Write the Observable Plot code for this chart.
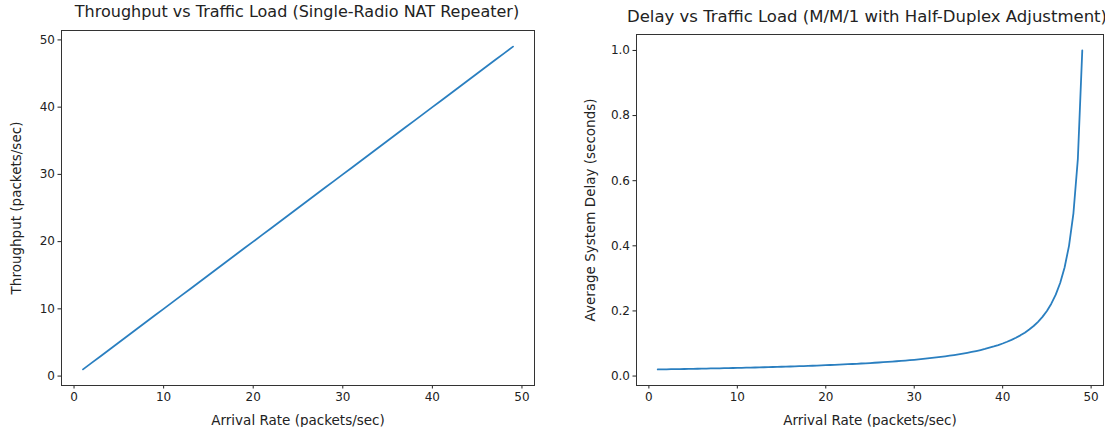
<!DOCTYPE html>
<html>
<head>
<meta charset="utf-8">
<script src="https://cdn.jsdelivr.net/npm/d3@7"></script>
<script src="https://cdn.jsdelivr.net/npm/@observablehq/plot@0.6"></script>
<style>
  html, body { margin: 0; padding: 0; background: #fff; }
  #wrap { position: relative; width: 1105px; height: 427px; background: #fff; font-family: "DejaVu Sans", sans-serif; color: #222; }
  .panel { position: absolute; top: 0; }
  .title { position: absolute; font-size: 16px; line-height: 18px; white-space: nowrap; transform: translateX(-50%); color: #222; }
</style>
</head>
<body>
<div id="wrap">
  <div class="title" id="t1" style="left:297px; top:3px;">Throughput vs Traffic Load (Single-Radio NAT Repeater)</div>
  <div class="title" id="t2" style="left:867px; top:8px; font-size:16.5px;">Delay vs Traffic Load (M/M/1 with Half-Duplex Adjustment)</div>
  <div class="panel" id="p1" style="left:0px;"></div>
  <div class="panel" id="p2" style="left:560px;"></div>
</div>
<script>
// ---- Data ----
const arrivalRates = [1,2,3,4,5,6,7,8,9,10,11,12,13,14,15,16,17,18,19,20,21,22,23,24,25,26,27,28,29,30,31,32,33,34,35,36,37,38,39,40,41,42,43,44,45,46,47,48,49];
const throughput   = [1,2,3,4,5,6,7,8,9,10,11,12,13,14,15,16,17,18,19,20,21,22,23,24,25,26,27,28,29,30,31,32,33,34,35,36,37,38,39,40,41,42,43,44,45,46,47,48,49];

const delayArrival = [1,1.5,2,2.5,3,3.5,4,4.5,5,5.5,6,6.5,7,7.5,8,8.5,9,9.5,10,10.5,11,11.5,12,12.5,13,13.5,14,14.5,15,15.5,16,16.5,17,17.5,18,18.5,19,19.5,20,20.5,21,21.5,22,22.5,23,23.5,24,24.5,25,25.5,26,26.5,27,27.5,28,28.5,29,29.5,30,30.5,31,31.5,32,32.5,33,33.5,34,34.5,35,35.5,36,36.5,37,37.5,38,38.5,39,39.5,40,40.5,41,41.5,42,42.5,43,43.5,44,44.5,45,45.5,46,46.5,47,47.5,48,48.5,49];
const delaySeconds = [0.0204,0.0206,0.0208,0.0211,0.0213,0.0215,0.0217,0.0220,0.0222,0.0225,0.0227,0.0230,0.0233,0.0235,0.0238,0.0241,0.0244,0.0247,0.0250,0.0253,0.0256,0.0260,0.0263,0.0267,0.0270,0.0274,0.0278,0.0282,0.0286,0.0290,0.0294,0.0299,0.0303,0.0308,0.0313,0.0317,0.0323,0.0328,0.0333,0.0339,0.0345,0.0351,0.0357,0.0364,0.0370,0.0377,0.0385,0.0392,0.0400,0.0408,0.0417,0.0426,0.0435,0.0444,0.0455,0.0465,0.0476,0.0488,0.0500,0.0513,0.0526,0.0541,0.0556,0.0571,0.0588,0.0606,0.0625,0.0645,0.0667,0.0690,0.0714,0.0741,0.0769,0.0800,0.0833,0.0870,0.0909,0.0952,0.1000,0.1053,0.1111,0.1176,0.1250,0.1333,0.1429,0.1538,0.1667,0.1818,0.2000,0.2222,0.2500,0.2857,0.3333,0.4000,0.5000,0.6667,1.0000];

const xTicks = [0,10,20,30,40,50];
const yTicksLeft = [0,10,20,30,40,50];
const yTicksRight = [0,0.2,0.4,0.6,0.8,1.0];

const lineColor = "#2a7fc0";

const throughputData = arrivalRates.map((a, i) => ({a, t: throughput[i]}));
const delayData = delayArrival.map((a, i) => ({a, d: delaySeconds[i]}));

const common = {
  style: {fontFamily: "DejaVu Sans, sans-serif", fontSize: "12px", color: "#222", background: "transparent", overflow: "visible"}
};

const p1 = Plot.plot({
  ...common,
  width: 560, height: 427,
  marginLeft: 61, marginRight: 26, marginTop: 30, marginBottom: 42,
  x: {domain: [-1.4, 51.4]},
  y: {domain: [-1.4, 51.4]},
  marks: [
    Plot.axisX({ticks: xTicks, tickSize: 3.5, tickPadding: 3, tickFormat: d => String(d), label: null}),
    Plot.axisX({ticks: [], label: "Arrival Rate (packets/sec)", labelAnchor: "center", labelArrow: "none", labelOffset: 39, fontSize: 13.5}),
    Plot.axisY({ticks: yTicksLeft, tickSize: 3.5, tickPadding: 3, tickFormat: d => String(d), label: null}),
    Plot.axisY({ticks: [], label: "Throughput (packets/sec)", labelAnchor: "center", labelArrow: "none", labelOffset: 50, fontSize: 13.5}),
    Plot.line(throughputData, {x: "a", y: "t", stroke: lineColor, strokeWidth: 1.8}),
    Plot.frame({stroke: "#333", strokeWidth: 1})
  ]
});
document.getElementById("p1").appendChild(p1);

const p2 = Plot.plot({
  ...common,
  width: 545, height: 427,
  marginLeft: 76, marginRight: 2, marginTop: 34, marginBottom: 42,
  x: {domain: [-1.4, 51.4]},
  y: {domain: [-0.029, 1.049]},
  marks: [
    Plot.axisX({ticks: xTicks, tickSize: 3.5, tickPadding: 3, tickFormat: d => String(d), label: null}),
    Plot.axisX({ticks: [], label: "Arrival Rate (packets/sec)", labelAnchor: "center", labelArrow: "none", labelOffset: 39, fontSize: 13.5}),
    Plot.axisY({ticks: yTicksRight, tickSize: 3.5, tickPadding: 3, tickFormat: d => d.toFixed(1), label: null}),
    Plot.axisY({ticks: [], label: "Average System Delay (seconds)", labelAnchor: "center", labelArrow: "none", labelOffset: 51, fontSize: 13.5}),
    Plot.line(delayData, {x: "a", y: "d", stroke: lineColor, strokeWidth: 1.8}),
    Plot.frame({stroke: "#333", strokeWidth: 1})
  ]
});
document.getElementById("p2").appendChild(p2);
</script>
</body>
</html>
